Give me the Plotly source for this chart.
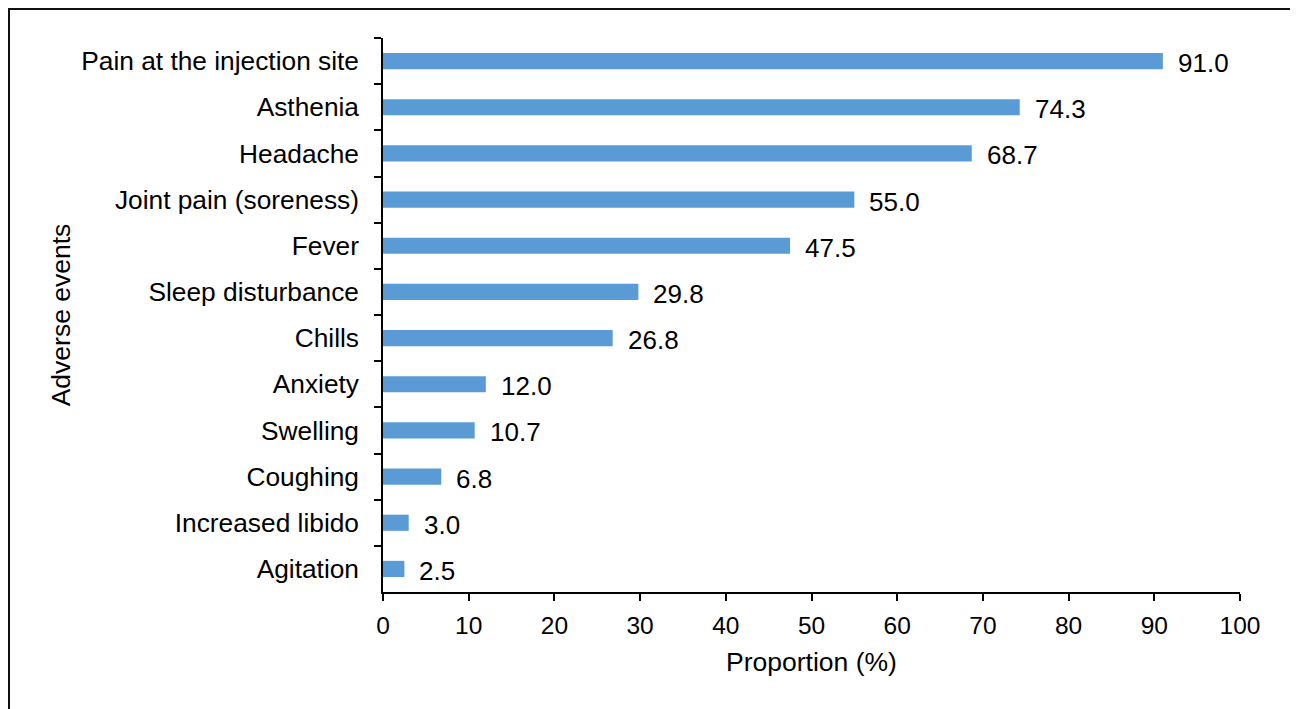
import plotly.graph_objects as go

categories = ["Pain at the injection site", "Asthenia", "Headache", "Joint pain (soreness)",
              "Fever", "Sleep disturbance", "Chills", "Anxiety", "Swelling", "Coughing",
              "Increased libido", "Agitation"]
values = [91.0, 74.3, 68.7, 55.0, 47.5, 29.8, 26.8, 12.0, 10.7, 6.8, 3.0, 2.5]
x_ticks = [0, 10, 20, 30, 40, 50, 60, 70, 80, 90, 100]

FONT = "Liberation Sans, Arial, sans-serif"
FS_CAT = 26.3
FS_TICK = 24.5
FS_TITLE = 26.5
FS_LBL = 26
W, H = 1298, 709
OFF = 8  # page body margin
L, T = 383 - OFF, 38 - OFF
R = W - (1240 - OFF)
B = H - (592 - OFF)
pw, ph = W - L - R, H - T - B

fig = go.Figure(go.Bar(
    x=values, y=categories, orientation="h",
    marker=dict(color="#5B9BD5", line=dict(width=0)),
    width=0.35,
))

for c, v in zip(categories, values):
    fig.add_annotation(x=v, y=c, text=f"{v:.1f}", showarrow=False,
                       xanchor="left", xshift=13, yshift=-2,
                       font=dict(family=FONT, size=FS_LBL, color="#000000"))

def px_x(p):
    return (p - OFF - L) / pw

def px_y(p):
    return (H - B - (p - OFF)) / ph

fig.add_shape(type="rect", xref="paper", yref="paper",
              x0=px_x(9), x1=px_x(1291), y0=px_y(730), y1=px_y(9),
              line=dict(color="#111111", width=2), fillcolor="rgba(0,0,0,0)", layer="below")

fig.update_layout(
    width=W, height=H,
    margin=dict(l=L, r=R, t=T, b=B),
    paper_bgcolor="white", plot_bgcolor="white",
    showlegend=False,
    font=dict(family=FONT, size=FS_TICK, color="#000000"),
    xaxis=dict(range=[0, 100], tickvals=x_ticks, ticks="outside", ticklen=7,
               tickcolor="#000000", tickwidth=1.5,
               showline=True, linecolor="#000000", linewidth=1.5,
               showgrid=False, zeroline=False, ticklabelstandoff=4,
               title=dict(text="Proportion (%)", standoff=14,
                          font=dict(family=FONT, size=FS_TITLE)),
               tickfont=dict(family=FONT, size=FS_TICK), fixedrange=True),
    yaxis=dict(categoryorder="array", categoryarray=categories, autorange="reversed",
               ticks="outside", ticklen=7, tickson="boundaries",
               tickcolor="#000000", tickwidth=1.5,
               showline=True, linecolor="#000000", linewidth=1.5,
               showgrid=False, zeroline=False, ticklabelstandoff=17,
               title=dict(text="Adverse events", standoff=3,
                          font=dict(family=FONT, size=FS_TITLE)),
               tickfont=dict(family=FONT, size=FS_CAT), fixedrange=True),
)

fig.write_html("out.html")
